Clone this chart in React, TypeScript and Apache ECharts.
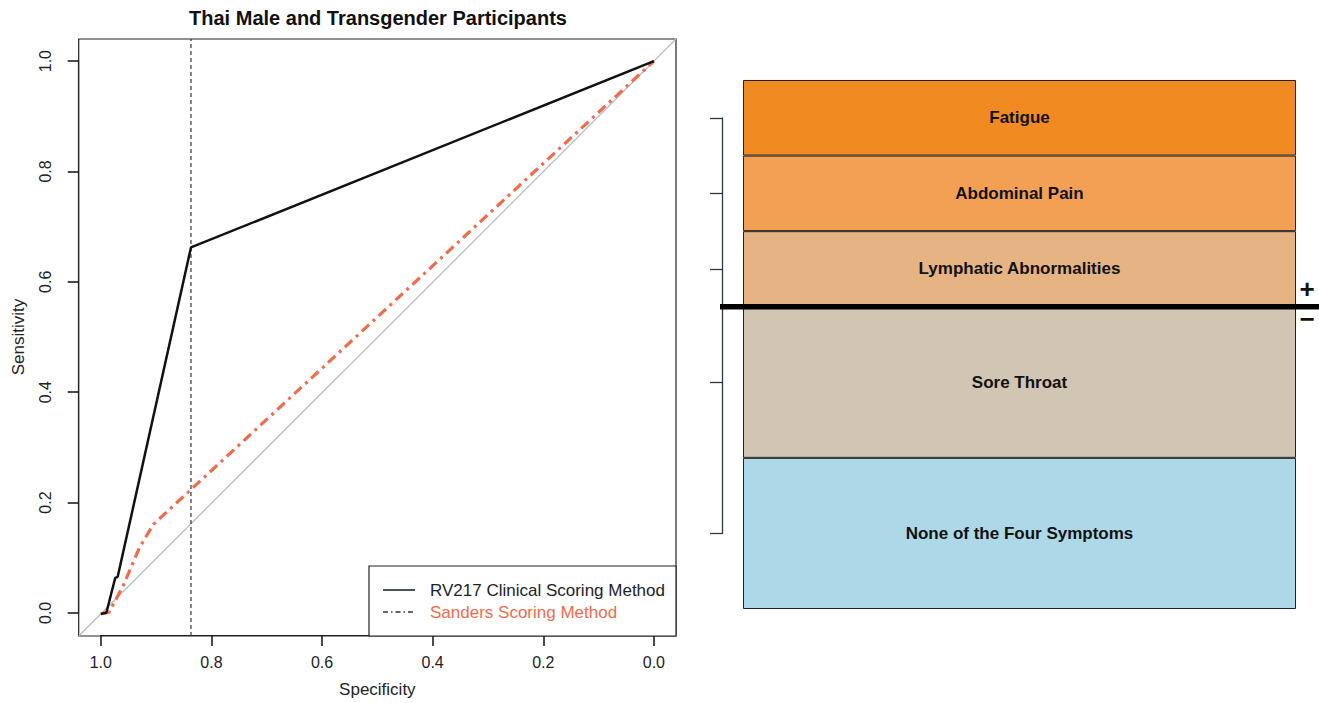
import React, { useEffect, useRef } from "react";
import * as echarts from "echarts";

const FONT = "'Liberation Sans', Arial, Helvetica, sans-serif";

// ROC panel data (specificity, sensitivity)
const rv217Spec = [1.0, 0.99, 0.974, 0.9695, 0.837, 0.0];
const rv217Sens = [0.0, 0.002, 0.065, 0.067, 0.663, 1.0];
const sandersSpec = [1.0, 0.985, 0.96, 0.93, 0.905, 0.0];
const sandersSens = [0.0, 0.003, 0.05, 0.12, 0.162, 1.0];
const cutoffSpec = 0.837;

// Scoring scale panel (bottom to top)
const symptoms = ["None of the Four Symptoms", "Sore Throat", "Lymphatic Abnormalities", "Abdominal Pain", "Fatigue"];
const symptomPoints = [2, 2, 1, 1, 1];
const symptomColors = ["#ADD8E7", "#D1C5B3", "#E6B383", "#F3A055", "#F28A22"];
const positiveThreshold = 4;

const title = "Thai Male and Transgender Participants";
const legendLabels = ["RV217 Clinical Scoring Method", "Sanders Scoring Method"];

const AX_MIN = -0.04;
const AX_MAX = 1.04;

export default function App() {
  const ref = useRef<HTMLDivElement>(null);
  useEffect(() => {
    document.body.style.margin = "0";
    const chart = echarts.init(ref.current!, undefined, { renderer: "svg" });

    const total = symptomPoints.reduce((a, b) => a + b, 0);
    const centers: number[] = [];
    let acc = 0;
    symptomPoints.forEach((p) => {
      centers.push(acc + p / 2);
      acc += p;
    });
    const minC = Math.min(...centers);
    const maxC = Math.max(...centers);

    const barTop = 80;
    const barBottom = 609;
    const unit = (barBottom - barTop) / total;

    const rocLeft = 78.7, rocTop = 39, rocW = 597.3, rocH = 597;
    const rocBottom = rocTop + rocH;
    const pad = 0.04 / 1.08;
    const TICK = 11;

    const option: any = {
      animation: false,
      backgroundColor: "#ffffff",
      grid: [
        { left: rocLeft, top: rocTop, width: rocW, height: rocH, show: true, borderColor: "#222", borderWidth: 1.2, backgroundColor: "transparent" },
        { left: 743, top: barTop, width: 553, height: barBottom - barTop, show: false },
        { left: 722, top: barTop + (total - maxC) * unit, width: 10, height: (maxC - minC) * unit, show: false },
        // inner frame spanning 0..1, carrying the R-style axes
        { left: rocLeft + rocW * pad, top: rocTop + rocH * pad, width: rocW / 1.08, height: rocH / 1.08, show: false },
      ],
      xAxis: [
        { gridIndex: 0, type: "value", inverse: true, min: AX_MIN, max: AX_MAX, show: false },
        { gridIndex: 1, type: "category", data: ["score"], show: false },
        { gridIndex: 2, type: "value", min: 0, max: 1, show: false },
        {
          gridIndex: 3, type: "value", inverse: true, min: 0, max: 1, interval: 0.2, position: "bottom",
          offset: rocH * pad,
          axisLine: { show: true, onZero: false, lineStyle: { color: "#222", width: 1.2 } }, splitLine: { show: false },
          axisTick: { show: true, length: TICK, lineStyle: { color: "#111", width: 1.5 } },
          axisLabel: { formatter: (v: number) => v.toFixed(1), fontSize: 16, margin: 19, color: "#222", fontFamily: FONT, showMinLabel: true, showMaxLabel: true },
          name: "Specificity", nameLocation: "middle", nameGap: 46,
          nameTextStyle: { fontSize: 17, color: "#222", fontFamily: FONT },
        },
      ],
      yAxis: [
        { gridIndex: 0, type: "value", min: AX_MIN, max: AX_MAX, show: false },
        { gridIndex: 1, type: "value", min: 0, max: total, show: false },
        {
          gridIndex: 2, type: "value", min: minC, max: maxC, position: "left",
          axisLine: { show: true, onZero: false, lineStyle: { color: "#2f3b42", width: 1.3 } },
          axisTick: { show: true, length: 12, customValues: centers, lineStyle: { color: "#2f3b42", width: 1.3 } },
          axisLabel: { show: false }, splitLine: { show: false },
        },
        {
          gridIndex: 3, type: "value", min: 0, max: 1, interval: 0.2, position: "left",
          offset: rocW * pad,
          axisLine: { show: true, onZero: false, lineStyle: { color: "#222", width: 1.2 } }, splitLine: { show: false },
          axisTick: { show: true, length: TICK, lineStyle: { color: "#111", width: 1.5 } },
          axisLabel: { formatter: (v: number) => v.toFixed(1), fontSize: 16, rotate: 90, margin: 25, color: "#222", fontFamily: FONT, showMinLabel: true, showMaxLabel: true },
          name: "Sensitivity", nameLocation: "middle", nameGap: 52,
          nameTextStyle: { fontSize: 17, color: "#222", fontFamily: FONT },
        },
      ],
      series: [
        {
          type: "line", xAxisIndex: 0, yAxisIndex: 0, symbol: "none", silent: true,
          data: [[AX_MAX, AX_MIN], [AX_MIN, AX_MAX]],
          lineStyle: { color: "#B5BFC5", width: 1.3 }, z: 1,
        },
        {
          type: "line", xAxisIndex: 0, yAxisIndex: 0, symbol: "none", silent: true,
          data: [[cutoffSpec, AX_MIN], [cutoffSpec, AX_MAX]],
          lineStyle: { color: "#333", width: 1.2, type: [4, 3] }, z: 2,
        },
        {
          name: legendLabels[1], type: "line", xAxisIndex: 0, yAxisIndex: 0, symbol: "none",
          data: sandersSpec.map((s, i) => [s, sandersSens[i]]),
          lineStyle: { color: "#F26B4A", width: 3.2, type: [10, 5, 3, 5] }, z: 3,
        },
        {
          name: legendLabels[0], type: "line", xAxisIndex: 0, yAxisIndex: 0, symbol: "none",
          data: rv217Spec.map((s, i) => [s, rv217Sens[i]]),
          lineStyle: { color: "#111", width: 2.5 }, z: 4,
        },
        ...symptoms.map((name, i) => ({
          name, type: "bar", xAxisIndex: 1, yAxisIndex: 1, stack: "score", barWidth: "100%",
          data: [symptomPoints[i]],
          itemStyle: { color: symptomColors[i], borderColor: "#222", borderWidth: 1 },
          label: { show: true, position: "inside", formatter: "{a}", fontSize: 17, fontWeight: "bold", color: "#111", fontFamily: FONT },
        })),
      ],
    };
    chart.setOption(option);

    const ty = chart.convertToPixel({ yAxisIndex: 1 } as any, positiveThreshold) as unknown as number;
    const legX = 369, legY = 566, legR = rocLeft + rocW, legB = rocBottom;
    chart.setOption({
      graphic: [
        {
          type: "text", x: 378, y: 18, z: 10,
          style: { text: title, align: "center", verticalAlign: "middle", textAlign: "center", textVerticalAlign: "middle", fontSize: 20, fontWeight: "bold", fontFamily: FONT, fill: "#111" },
        },
        {
          type: "rect", z: 10,
          shape: { x: legX, y: legY, width: legR - legX, height: legB - legY },
          style: { fill: "#fff", stroke: "#222", lineWidth: 1.2 },
        },
        { type: "line", z: 11, shape: { x1: 383, y1: 590, x2: 415, y2: 590 }, style: { stroke: "#1c2a30", lineWidth: 1.6 } },
        { type: "line", z: 11, shape: { x1: 383, y1: 612, x2: 415, y2: 612 }, style: { stroke: "#2a3a44", lineWidth: 1.3, lineDash: [5, 3, 1.5, 3] } },
        {
          type: "text", z: 11, x: 430, y: 590,
          style: { text: legendLabels[0], align: "left", verticalAlign: "middle", textAlign: "left", textVerticalAlign: "middle", fontSize: 17, fontFamily: FONT, fill: "#1c2228" },
        },
        {
          type: "text", z: 11, x: 430, y: 612,
          style: { text: legendLabels[1], align: "left", verticalAlign: "middle", textAlign: "left", textVerticalAlign: "middle", fontSize: 17, fontFamily: FONT, fill: "#F26B4A" },
        },
        { type: "line", z: 12, shape: { x1: 720, y1: ty, x2: 1319, y2: ty }, style: { stroke: "#000", lineWidth: 5.5 } },
        {
          type: "text", z: 12, x: 1307, y: ty - 18,
          style: { text: "+", align: "center", verticalAlign: "middle", textAlign: "center", textVerticalAlign: "middle", fontSize: 26, fontWeight: "bold", fontFamily: FONT, fill: "#111" },
        },
        {
          type: "text", z: 12, x: 1307, y: ty + 12,
          style: { text: "\u2212", align: "center", verticalAlign: "middle", textAlign: "center", textVerticalAlign: "middle", fontSize: 26, fontWeight: "bold", fontFamily: FONT, fill: "#111" },
        },
      ],
    });

    return () => chart.dispose();
  }, []);
  return <div ref={ref} style={{ width: 1319, height: 703, overflow: "hidden" }} />;
}
